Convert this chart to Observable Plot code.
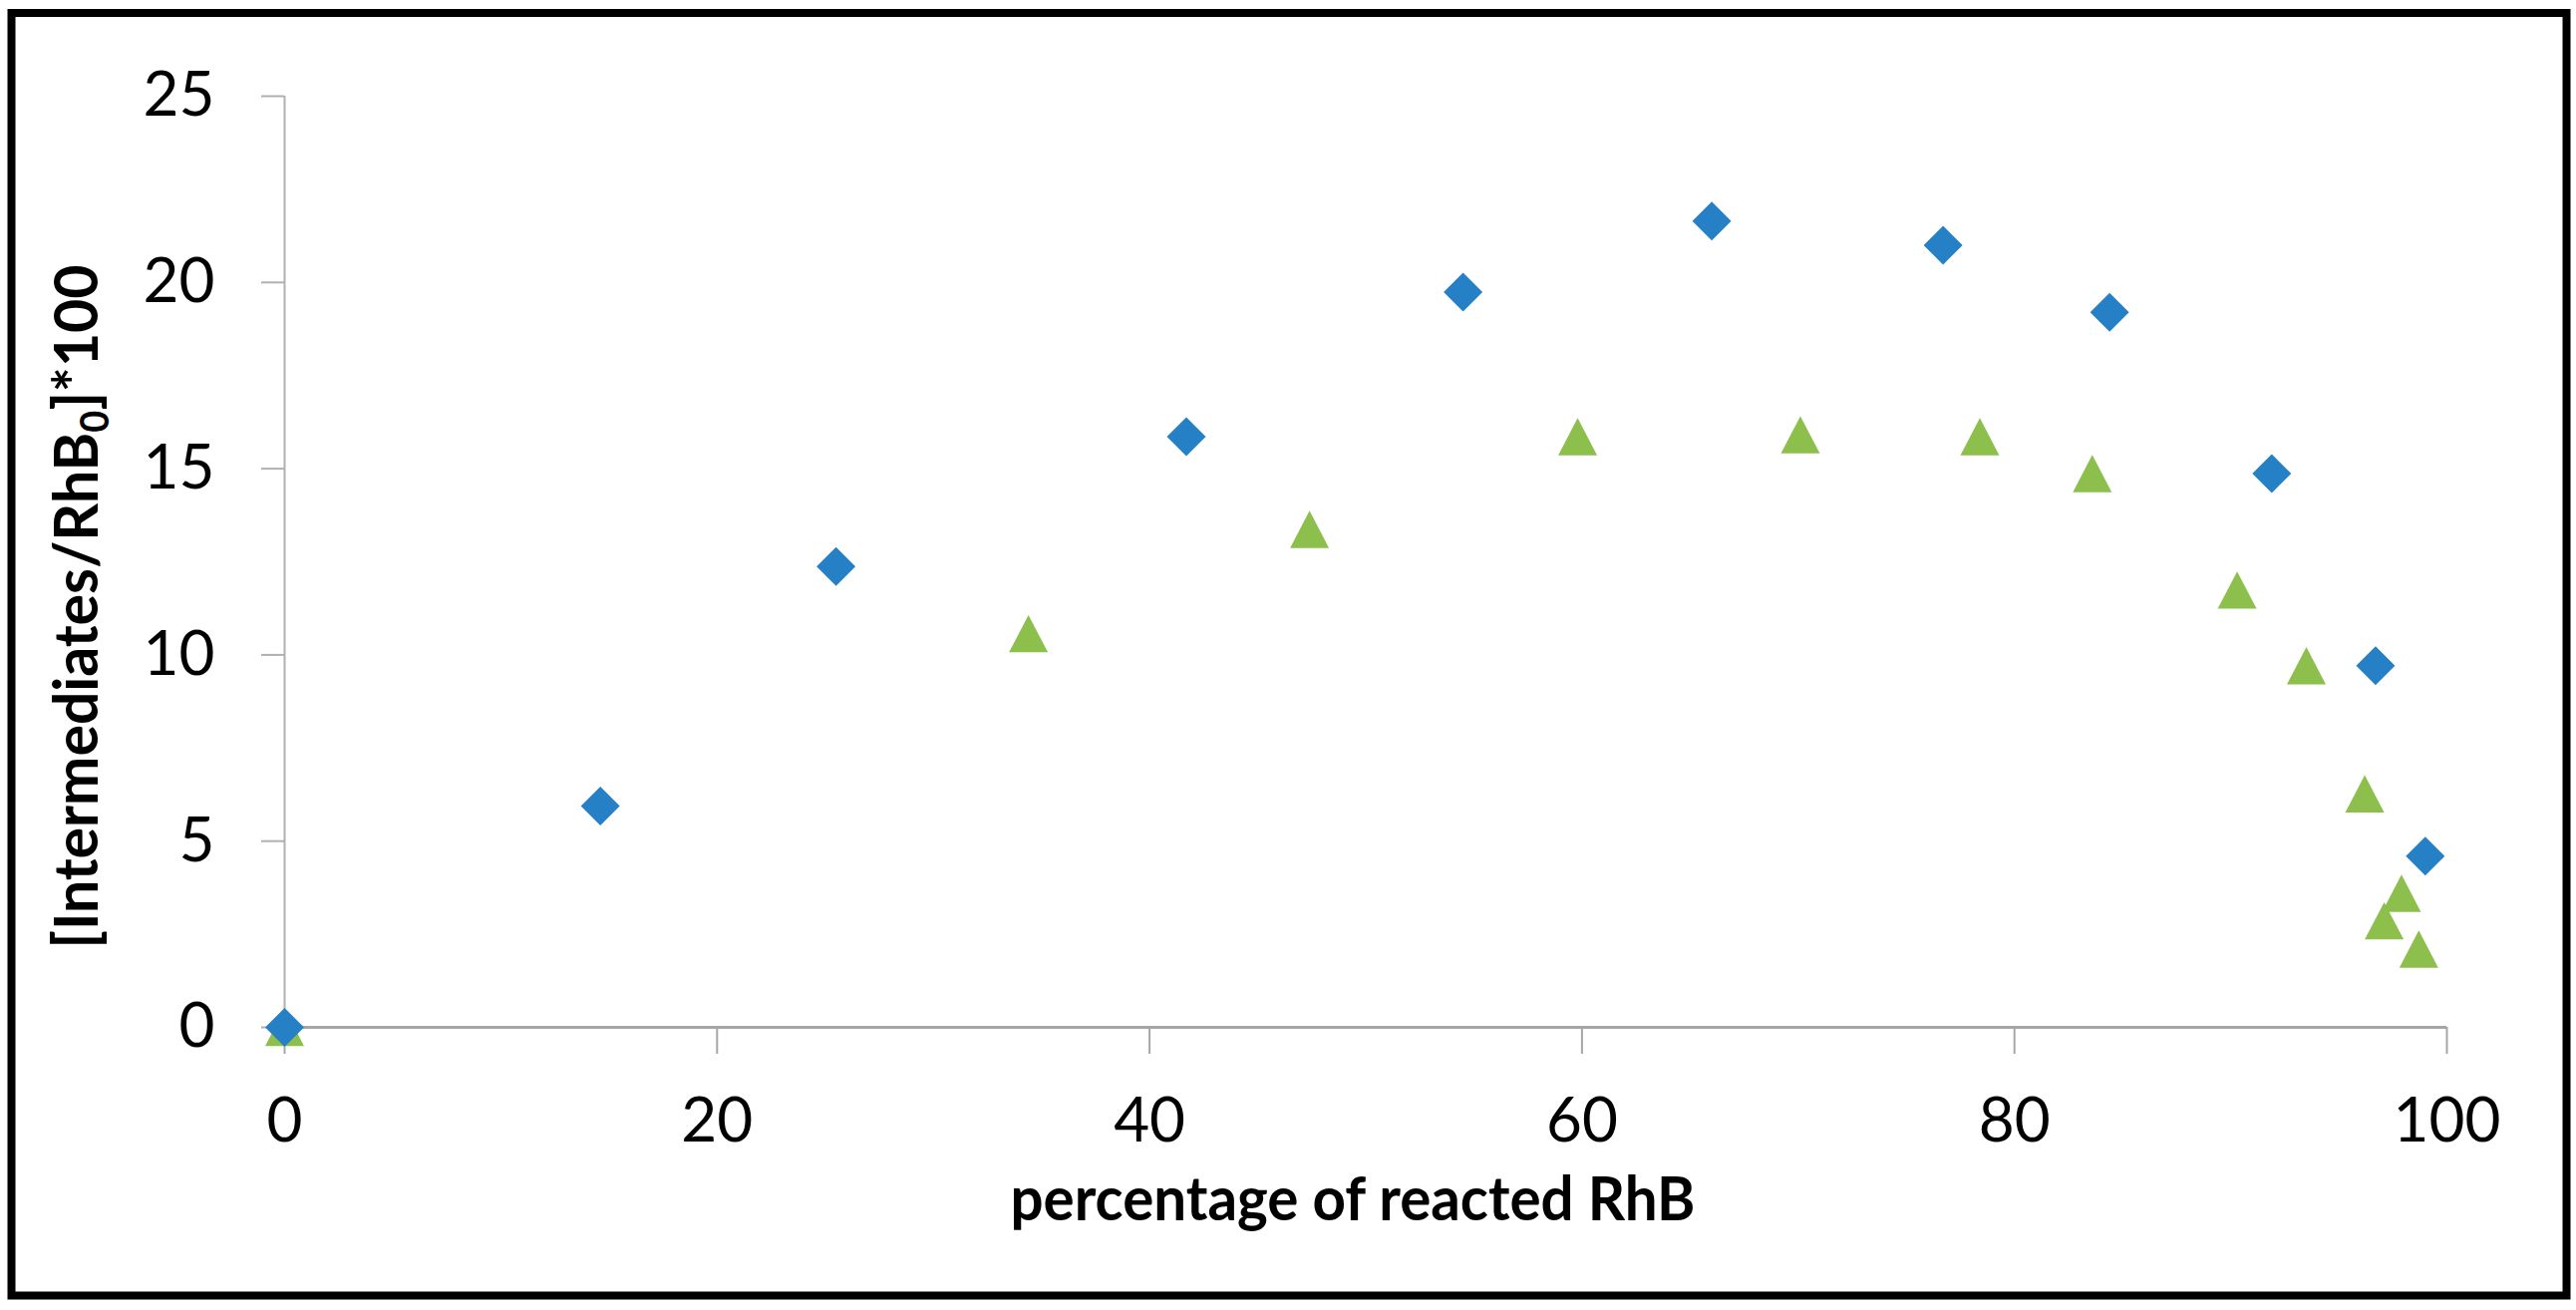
<!DOCTYPE html>
<html>
<head>
<meta charset="utf-8">
<script src="https://cdn.jsdelivr.net/npm/d3@7"></script>
<script src="https://cdn.jsdelivr.net/npm/@observablehq/plot@0.6"></script>
<style>
html, body { margin: 0; padding: 0; background: #fff; }
svg { display: block; }
</style>
</head>
<body>
<div id="chart"></div>
<script>
// Series 1 (blue diamonds)
const blueX = [0, 14.6, 25.5, 41.7, 54.5, 66.0, 76.7, 84.4, 91.9, 96.7, 99.0];
const blueY = [0, 5.94, 12.37, 15.86, 19.74, 21.65, 21.0, 19.2, 14.87, 9.71, 4.6];
// Series 2 (green triangles)
const greenX = [0, 34.4, 47.4, 59.8, 70.1, 78.4, 83.6, 90.3, 93.5, 96.2, 97.1, 97.9, 98.7];
const greenY = [0, 10.57, 13.37, 15.86, 15.91, 15.86, 14.87, 11.74, 9.71, 6.27, 2.86, 3.6, 2.1];
// Axis ticks
const xTicks = [0, 20, 40, 60, 80, 100];
const yTicks = [0, 5, 10, 15, 20, 25];
const xTitle = "percentage of reacted RhB";
const yTitleParts = ["[Intermediates/RhB", "0", "]*100"];

const blueData = blueX.map((x, i) => ({x, y: blueY[i]}));
const greenData = greenX.map((x, i) => ({x, y: greenY[i]}));

const diamond = {
  draw(ctx, size) {
    const r = Math.sqrt(size / Math.PI);
    ctx.moveTo(0, -r); ctx.lineTo(r, 0); ctx.lineTo(0, r); ctx.lineTo(-r, 0); ctx.closePath();
  }
};
const triangle = {
  draw(ctx, size) {
    const r = Math.sqrt(size / Math.PI);
    const h = 0.96 * r;
    ctx.moveTo(0, -h); ctx.lineTo(r, h); ctx.lineTo(-r, h); ctx.closePath();
  }
};

const chart = Plot.plot({
  width: 2584,
  height: 1314,
  marginLeft: 285,
  marginRight: 130,
  marginTop: 96,
  marginBottom: 284,
  x: {domain: [0, 100]},
  y: {domain: [0, 25]},
  style: {fontFamily: "Lato, sans-serif", background: "#fff", color: "#000"},
  marks: [
    Plot.frame({stroke: "#000", strokeWidth: 8, insetLeft: -274, insetRight: -120, insetTop: -83.5, insetBottom: -269}),
    Plot.ruleX([0], {stroke: "#b0b0b0", strokeWidth: 2}),
    Plot.ruleY([0], {stroke: "#a6a6a6", strokeWidth: 3}),
    Plot.axisX({ticks: xTicks, tickSize: 27, tickPadding: 43, fontSize: 62, stroke: "#a6a6a6", strokeWidth: 2, fill: "#000", label: null}),
    Plot.axisY({ticks: yTicks, tickSize: 23, tickPadding: 47, fontSize: 62, stroke: "#b0b0b0", strokeWidth: 2, fill: "#000", label: null}),
    Plot.dot(greenData, {x: "x", y: "y", r: 19.5, symbol: triangle, fill: "#8cbf4b", stroke: "none"}),
    Plot.dot(blueData, {x: "x", y: "y", r: 19.5, symbol: diamond, fill: "#2680c6", stroke: "none"}),
    Plot.text([xTitle], {frameAnchor: "bottom", lineAnchor: "bottom", textAnchor: "middle", dx: -13, dy: 193, fontSize: 62, fontWeight: "bold", fill: "#000"}),
    Plot.text([yTitleParts.join("")], {frameAnchor: "left", lineAnchor: "bottom", textAnchor: "middle", rotate: -90, dx: -188, dy: 45, fontSize: 62, fontWeight: "bold", fill: "#000"})
  ]
});

const svg = d3.select(chart);
svg.selectAll("text").each(function() {
  const t = d3.select(this);
  const s = this.textContent;
  if (s === xTitle) {
    t.attr("textLength", 687).attr("lengthAdjust", "spacingAndGlyphs");
  } else if (s === yTitleParts.join("")) {
    t.text(null);
    t.append("tspan").text(yTitleParts[0]);
    t.append("tspan").attr("font-size", 40).attr("dy", 11).text(yTitleParts[1]);
    t.append("tspan").attr("dy", -11).text(yTitleParts[2]);
    t.attr("textLength", 686).attr("lengthAdjust", "spacingAndGlyphs");
  }
});

document.getElementById("chart").appendChild(chart);
</script>
</body>
</html>
